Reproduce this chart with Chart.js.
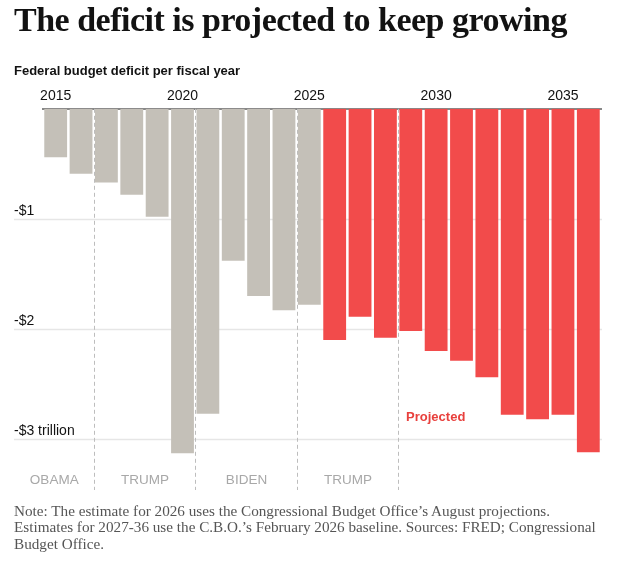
<!DOCTYPE html>
<html>
<head>
<meta charset="utf-8">
<script src="https://cdn.jsdelivr.net/npm/chart.js@4.4.1/dist/chart.umd.min.js"></script>
<style>
    html, body { margin: 0; padding: 0; background: #fff; }
    #wrap { position: relative; width: 621px; height: 564px; overflow: hidden; }
    #chart { position: absolute; left: 0; top: 0; }
    .title {
        position: absolute; left: 14px; top: 0px; margin: 0;
        font-family: "Liberation Serif", serif; font-weight: bold;
        font-size: 34px; line-height: 40px; letter-spacing: -0.5px;
        color: #121212; white-space: nowrap;
    }
    .subtitle {
        position: absolute; left: 14px; top: 63px;
        font-family: "Liberation Sans", sans-serif; font-weight: bold;
        font-size: 13px; line-height: 16px; color: #121212; white-space: nowrap;
    }
    .note {
        position: absolute; left: 14px; top: 503px; width: 610px;
        font-family: "Liberation Serif", serif; white-space: nowrap;
        font-size: 15.2px; line-height: 16.3px; color: #555;
    }
</style>
</head>
<body>
<div id="wrap">
    <canvas id="chart" width="621" height="564"></canvas>
    <h1 class="title">The deficit is projected to keep growing</h1>
    <div class="subtitle">Federal budget deficit per fiscal year</div>
    <div class="note">Note: The estimate for 2026 uses the Congressional Budget Office’s August projections.<br>Estimates for 2027-36 use the C.B.O.’s February 2026 baseline. Sources: FRED; Congressional<br>Budget Office.</div>
</div>
<script>
// Fiscal years and deficit in trillions of dollars (negative = deficit)
const years = [2015, 2016, 2017, 2018, 2019, 2020, 2021, 2022, 2023, 2024, 2025,
               2026, 2027, 2028, 2029, 2030, 2031, 2032, 2033, 2034, 2035, 2036];
const deficits = [-0.44, -0.59, -0.67, -0.78, -0.98, -3.13, -2.77, -1.38, -1.70, -1.83, -1.78,
                  -2.10, -1.89, -2.08, -2.02, -2.20, -2.29, -2.44, -2.78, -2.82, -2.78, -3.12];
const firstProjectedYear = 2026;

const yTicks = [-1, -2, -3];
const yTickLabels = ['-$1', '-$2', '-$3 trillion'];

// Presidencies: label and the first fiscal year after the term ends
const eraLabels = ['OBAMA', 'TRUMP', 'BIDEN', 'TRUMP'];
const eraEnds = [2017, 2021, 2025, 2029];

const GRAY = '#c4c0b8';
const RED = '#f24b4b';

const overlayPlugin = {
    id: 'overlay',
    beforeDatasetsDraw(chart) {
        const { ctx, chartArea, scales: { x, y } } = chart;
        ctx.save();

        // horizontal gridlines, running left past the bars
        ctx.strokeStyle = '#e6e6e6';
        ctx.lineWidth = 1.5;
        yTicks.forEach((v, i) => {
            const py = Math.round(y.getPixelForValue(v)) + 0.5;
            ctx.beginPath();
            ctx.moveTo(14, py);
            ctx.lineTo(chartArea.right + 1, py);
            ctx.stroke();

            ctx.fillStyle = '#121212';
            ctx.font = '14px "Liberation Sans", sans-serif';
            ctx.textAlign = 'left';
            ctx.textBaseline = 'alphabetic';
            ctx.fillText(yTickLabels[i], 14, py - 5);
        });

        // dashed lines between presidencies
        const step = x.getPixelForValue(1) - x.getPixelForValue(0);
        const bounds = [14];
        ctx.strokeStyle = '#bdbdbd';
        ctx.lineWidth = 1;
        ctx.setLineDash([4, 3]);
        eraEnds.forEach(yr => {
            const px = Math.round(x.getPixelForValue(years.indexOf(yr)) - step / 2) + 0.5;
            bounds.push(px);
            ctx.beginPath();
            ctx.moveTo(px, chartArea.top);
            ctx.lineTo(px, chartArea.bottom - 4);
            ctx.stroke();
        });
        ctx.setLineDash([]);

        // presidency labels
        ctx.fillStyle = '#a8a8a8';
        ctx.font = '13.5px "Liberation Sans", sans-serif';
        ctx.textAlign = 'center';
        ctx.textBaseline = 'middle';
        eraLabels.forEach((label, i) => {
            ctx.fillText(label, (bounds[i] + bounds[i + 1]) / 2, 480);
        });

        ctx.restore();
    },
    afterDatasetsDraw(chart) {
        const { ctx, scales: { x, y } } = chart;
        const step = x.getPixelForValue(1) - x.getPixelForValue(0);
        const px = x.getPixelForValue(years.indexOf(2029)) - step / 2 + 8;
        ctx.save();
        ctx.fillStyle = '#e8403d';
        ctx.font = 'bold 13px "Liberation Sans", sans-serif';
        ctx.textAlign = 'left';
        ctx.textBaseline = 'middle';
        ctx.fillText('Projected', px, y.getPixelForValue(-2.8));
        ctx.restore();
    }
};

new Chart(document.getElementById('chart').getContext('2d'), {
    type: 'bar',
    data: {
        labels: years.map(String),
        datasets: [{
            data: deficits,
            backgroundColor: years.map(yr => yr >= firstProjectedYear ? RED : GRAY),
            borderWidth: 0,
            categoryPercentage: 1,
            barPercentage: 0.9
        }]
    },
    options: {
        responsive: false,
        animation: false,
        layout: {
            padding: { left: 43, right: 20, top: 84, bottom: 70 }
        },
        plugins: {
            legend: { display: false },
            tooltip: { enabled: false }
        },
        scales: {
            x: {
                position: 'top',
                z: 1,
                grid: { display: false, drawTicks: false },
                border: { display: true, color: '#888', width: 2 },
                ticks: {
                    autoSkip: false,
                    maxRotation: 0,
                    padding: 4,
                    color: '#121212',
                    font: { family: '"Liberation Sans", sans-serif', size: 14 },
                    callback: function(value, index) {
                        return years[index] % 5 === 0 ? String(years[index]) : '';
                    }
                }
            },
            y: {
                display: false,
                min: -3.5,
                max: 0
            }
        }
    },
    plugins: [overlayPlugin]
});
</script>
</body>
</html>
